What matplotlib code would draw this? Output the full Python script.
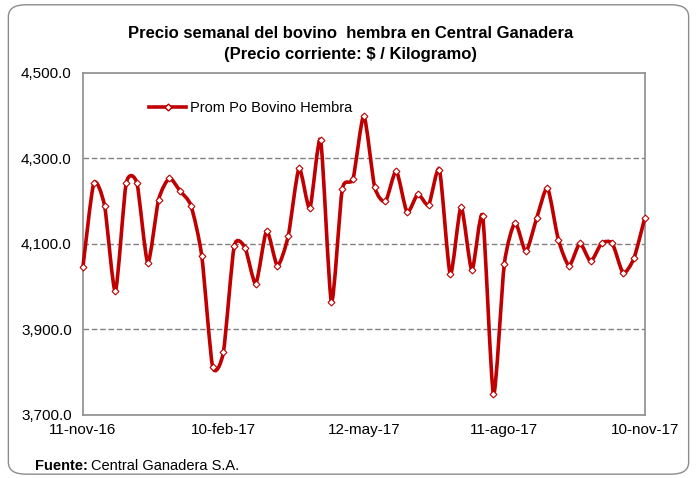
import matplotlib
matplotlib.use('Agg')
import matplotlib.pyplot as plt
import numpy as np
from matplotlib.path import Path
from matplotlib.patches import PathPatch, FancyBboxPatch
from matplotlib.lines import Line2D
from matplotlib.ticker import FuncFormatter

plt.rcParams['font.family'] = ['Liberation Sans', 'DejaVu Sans']

# precio semanal, 11-nov-16 .. 10-nov-17
precio = [4046, 4241, 4189, 3989, 4241, 4241, 4056, 4203, 4253, 4223,
          4189, 4071, 3813, 3847, 4094, 4091, 4007, 4130, 4049, 4118,
          4276, 4183, 4342, 3964, 4227, 4252, 4399, 4233, 4199, 4270,
          4174, 4216, 4191, 4273, 4029, 4186, 4038, 4164, 3748, 4052,
          4149, 4082, 4160, 4230, 4110, 4049, 4101, 4059, 4101, 4101,
          4032, 4066, 4160]
tick_pos = [0, 13, 26, 39, 52]
tick_labels = ['11-nov-16', '10-feb-17', '12-may-17', '11-ago-17', '10-nov-17']
y_ticks = [3700, 3900, 4100, 4300, 4500]

rojo = '#C00000'

fig = plt.figure(figsize=(6.97, 4.78), dpi=100)
fig.patches.append(FancyBboxPatch((0.012, 0.008), 0.976, 0.982,
                                  boxstyle='round,pad=0,rounding_size=0.025',
                                  transform=fig.transFigure, fill=False,
                                  edgecolor='#8c8c8c', lw=1.0))

ax = fig.add_axes([0.119, 0.132, 0.806, 0.716])
x = np.arange(len(precio))
y = np.array(precio, dtype=float)

# linea suavizada (estilo Excel) con curvas de Bezier
k = 9.0
verts = [(x[0], y[0])]
codes = [Path.MOVETO]
n = len(x)
for i in range(n - 1):
    p0 = np.array([x[max(i - 1, 0)], y[max(i - 1, 0)]])
    p1 = np.array([x[i], y[i]])
    p2 = np.array([x[i + 1], y[i + 1]])
    p3 = np.array([x[min(i + 2, n - 1)], y[min(i + 2, n - 1)]])
    c1 = p1 + (p2 - p0) / k
    c2 = p2 - (p3 - p1) / k
    verts += [tuple(c1), tuple(c2), tuple(p2)]
    codes += [Path.CURVE4] * 3
ax.add_patch(PathPatch(Path(verts, codes), facecolor='none', edgecolor=rojo,
                       lw=2.6, zorder=3, clip_on=False))
ax.plot(x, y, linestyle='none', marker='D', markersize=3.5,
        markerfacecolor='white', markeredgecolor=rojo, markeredgewidth=0.8,
        zorder=4, clip_on=False)

ax.set_xlim(0, 52)
ax.set_ylim(3700, 4500)
ax.set_yticks(y_ticks)
ax.yaxis.set_major_formatter(FuncFormatter(lambda v, p: f'{v:,.1f}'))
ax.set_xticks(tick_pos)
ax.set_xticklabels(tick_labels)
ax.tick_params(axis='both', length=0, labelsize=11)
ax.tick_params(axis='x', pad=6)
ax.tick_params(axis='y', pad=8)

for v in [3900, 4100, 4300]:
    ax.axhline(v, color='#808080', lw=1.0, ls=(0, (4, 2)), zorder=1)
for s in ax.spines.values():
    s.set_color('#8c8c8c')
    s.set_linewidth(1.2)

leg_handle = Line2D([], [], color=rojo, lw=2.6, marker='D', markersize=3.5,
                    markerfacecolor='white', markeredgecolor=rojo)
ax.legend([leg_handle], ['Prom Po Bovino Hembra'], loc='upper left',
          bbox_to_anchor=(0.095, 0.955), frameon=False, fontsize=10.5,
          handlelength=2.5, handletextpad=0.3)

fig.text(0.503, 0.929, 'Precio semanal del bovino  hembra en Central Ganadera',
         ha='center', va='center', fontsize=12, fontweight='bold')
fig.text(0.503, 0.887, '(Precio corriente: $ / Kilogramo)',
         ha='center', va='center', fontsize=12, fontweight='bold')

t1 = fig.text(0.05, 0.026, 'Fuente:', ha='left', va='center',
              fontsize=10.5, fontweight='bold')
fig.canvas.draw()
bb = t1.get_window_extent()
fig.text(bb.x1 / fig.bbox.width + 0.004, 0.026, 'Central Ganadera S.A.',
         ha='left', va='center', fontsize=10.5)

fig.savefig('out.png', dpi=100)
